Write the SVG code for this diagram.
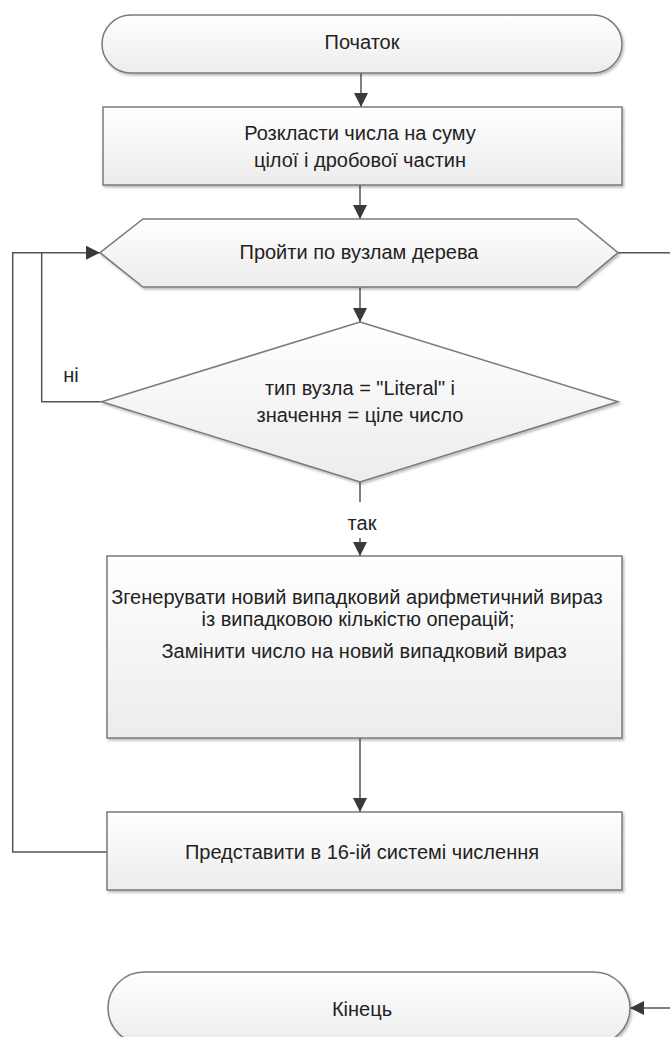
<svg xmlns="http://www.w3.org/2000/svg" width="670" height="1037" viewBox="0 0 670 1037">
<defs>
<linearGradient id="g" x1="0" y1="0" x2="0" y2="1">
<stop offset="0" stop-color="#ffffff"/>
<stop offset="1" stop-color="#ececec"/>
</linearGradient>
<filter id="sh" x="-5%" y="-10%" width="110%" height="130%">
<feDropShadow dx="1.5" dy="2" stdDeviation="1.2" flood-color="#000" flood-opacity="0.25"/>
</filter>
<marker id="ah" viewBox="0 0 14 14" refX="14" refY="7" markerWidth="14" markerHeight="14" markerUnits="userSpaceOnUse" orient="auto">
<path d="M0 0 L14 7 L0 14 Z" fill="#3a3a3a"/>
</marker>
</defs>
<style>
.n{fill:url(#g);stroke:#7a7a7a;stroke-width:1.5;filter:url(#sh)}
.t{font-family:"Liberation Sans",Arial,sans-serif;font-size:20px;fill:#222;text-anchor:middle;dominant-baseline:central}
.c{fill:none;stroke:#555;stroke-width:1.5}
</style>
<rect width="670" height="1037" fill="#ffffff"/>
<g id="connectors">
<path class="c" d="M361 73 V107" marker-end="url(#ah)"/>
<path class="c" d="M360 185 V219" marker-end="url(#ah)"/>
<path class="c" d="M360 287 V322" marker-end="url(#ah)"/>
<path class="c" d="M101.7 401.7 H41.7 V252.7"/>
<path class="c" d="M107 852 H12.7 V252.7 H100" marker-end="url(#ah)"/>
<path class="c" d="M360 482 V502"/>
<path class="c" d="M360 538 V556" marker-end="url(#ah)"/>
<path class="c" d="M360 738 V812" marker-end="url(#ah)"/>
<path class="c" d="M618 252.7 H685 V1008 H630" marker-end="url(#ah)"/>
<text class="t" x="71" y="375">ні</text>
<text class="t" x="362" y="523">так</text>
</g>
<g id="start">
<rect class="n" x="102" y="15" width="520" height="58" rx="29"/>
<text class="t" x="362" y="42">Початок</text>
</g>
<g id="split">
<rect class="n" x="103" y="107" width="519" height="78"/>
<text class="t" x="360" y="133">Розкласти числа на суму</text>
<text class="t" x="360" y="160">цілої і дробової частин</text>
</g>
<g id="loop">
<polygon class="n" points="100,252.7 143,219 577,219 618,252.7 577,287 143,287"/>
<text class="t" x="359" y="252">Пройти по вузлам дерева</text>
</g>
<g id="decision">
<polygon class="n" points="360,322 618,401.7 360,482 101.7,401.7"/>
<text class="t" x="360" y="388">тип вузла = "Literal" і</text>
<text class="t" x="360" y="415">значення = ціле число</text>
</g>
<g id="generate">
<rect class="n" x="107" y="556" width="515" height="182"/>
<text class="t" x="357" y="597">Згенерувати новий випадковий арифметичний вираз</text>
<text class="t" x="358" y="619">із випадковою кількістю операцій;</text>
<text class="t" x="364" y="651">Замінити число на новий випадковий вираз</text>
</g>
<g id="hex">
<rect class="n" x="107" y="812" width="515" height="78"/>
<text class="t" x="362" y="852">Представити в 16-ій системі числення</text>
</g>
<g id="end">
<rect class="n" x="108" y="972" width="522" height="72" rx="36"/>
<text class="t" x="362" y="1009">Кінець</text>
</g>
</svg>
